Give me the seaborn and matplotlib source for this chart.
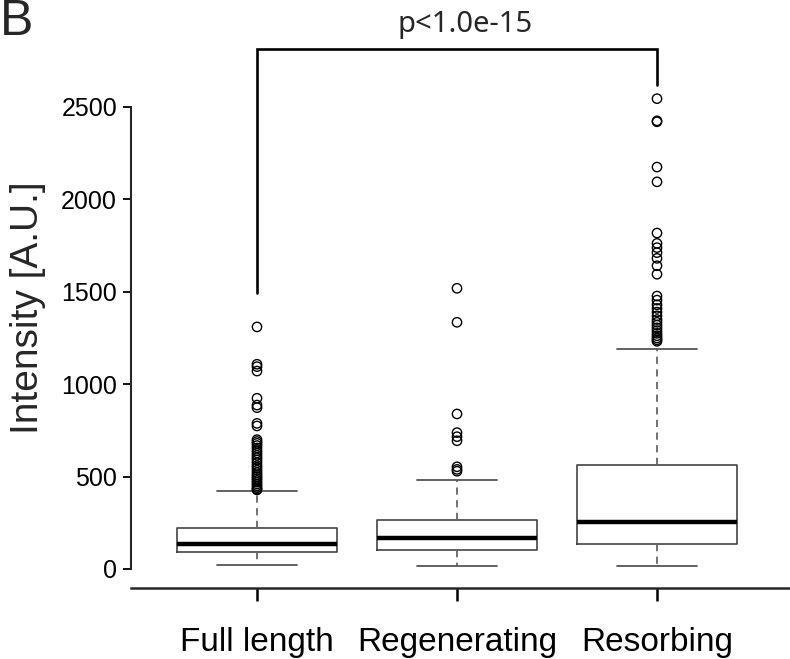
import matplotlib
matplotlib.use("Agg")
import matplotlib.pyplot as plt
import seaborn as sns
import pandas as pd

# ---- data ----
categories = ["Full length", "Regenerating", "Resorbing"]
whislo = [20, 18, 18]
q1 = [90, 103, 135]
med = [137, 168, 256]
q3 = [223, 265, 561]
whishi = [422, 483, 1190]

full_out = [1310, 1108, 1095, 1071, 924, 887, 873, 788, 774, 700, 690, 680, 668,
            655, 640, 628, 615, 602, 590, 575, 560, 548, 535, 522, 510, 500, 490,
            480, 470, 460, 450, 440, 432, 428]
regen_out = [1519, 1335, 839, 738, 716, 694, 553, 539, 529]
resorb_out = [2545, 2425, 2420, 2175, 2095, 1818, 1762, 1739, 1712, 1681, 1641,
              1595, 1477, 1455, 1430, 1410, 1390, 1370, 1350, 1335, 1320, 1305,
              1290, 1275, 1262, 1250, 1240, 1232]
outliers = [full_out, regen_out, resorb_out]

yticks = [0, 500, 1000, 1500, 2000, 2500]
p_text = "p<1.0e-15"

# ---- style ----
sns.set_style("ticks")
plt.rcParams["font.family"] = ["Liberation Sans", "DejaVu Sans"]

fig = plt.figure(figsize=(7.9, 6.59), dpi=100)
W, H = 790, 659
ax = fig.add_axes([131 / W, (H - 588) / H, (W - 131) / W, 588 / H])

positions = list(range(1, len(categories) + 1))
stats = []
for i, c in enumerate(categories):
    stats.append(dict(label=c, whislo=whislo[i], q1=q1[i], med=med[i],
                      q3=q3[i], whishi=whishi[i], fliers=[]))

ax.bxp(stats, positions=positions, widths=0.8, capwidths=0.4, showfliers=False,
       boxprops=dict(color="#444444", linewidth=1.2),
       medianprops=dict(color="black", linewidth=3.2, solid_capstyle="butt"),
       whiskerprops=dict(color="#666666", linestyle=(0, (4, 3)), linewidth=1.3),
       capprops=dict(color="#555555", linewidth=1.3))

rows = []
for i, vals in enumerate(outliers):
    for v in vals:
        rows.append({"pos": positions[i], "value": v})
df_out = pd.DataFrame(rows)
sns.scatterplot(data=df_out, x="pos", y="value", ax=ax, marker="o", s=45,
                facecolors="none", edgecolor="black", linewidth=1.0, zorder=3)

px_per_unit = 462 / 2500
ax.set_xlim(0.37, 3.665)
ax.set_ylim(-19 / px_per_unit, 569 / px_per_unit)
ax.set_xticks(positions)
ax.set_xticklabels(categories)
ax.set_yticks(yticks)
ax.set_yticklabels([str(t) for t in yticks])
ax.set_xlabel("")
ax.set_ylabel("")

for s in ["top", "right"]:
    ax.spines[s].set_visible(False)
ax.spines["left"].set_bounds(0, 2500)
ax.spines["left"].set_linewidth(1.5)
ax.spines["bottom"].set_linewidth(1.8)
ax.tick_params(axis="y", labelsize=18, length=6, width=1.3, pad=4, colors="black")
ax.tick_params(axis="x", labelsize=24, length=9, width=1.8, pad=19, colors="black")

# significance bracket
ax.plot([positions[0], positions[0], positions[2], positions[2]],
        [1493, 2812, 2812, 2620], color="black", linewidth=1.9, clip_on=False,
        solid_joinstyle="miter")
ax.text(2.04, 2905, p_text, ha="center", va="baseline", fontsize=21,
        family=["Noto Sans", "DejaVu Sans"], clip_on=False)

fig.text(28 / W, 1 - 308 / H, "Intensity [A.U.]", rotation=90, ha="center",
         va="center", fontsize=28)
fig.text(0 / W, 1 - 35 / H, "B", ha="left", va="baseline", fontsize=36)

fig.savefig("out.png", dpi=100)
